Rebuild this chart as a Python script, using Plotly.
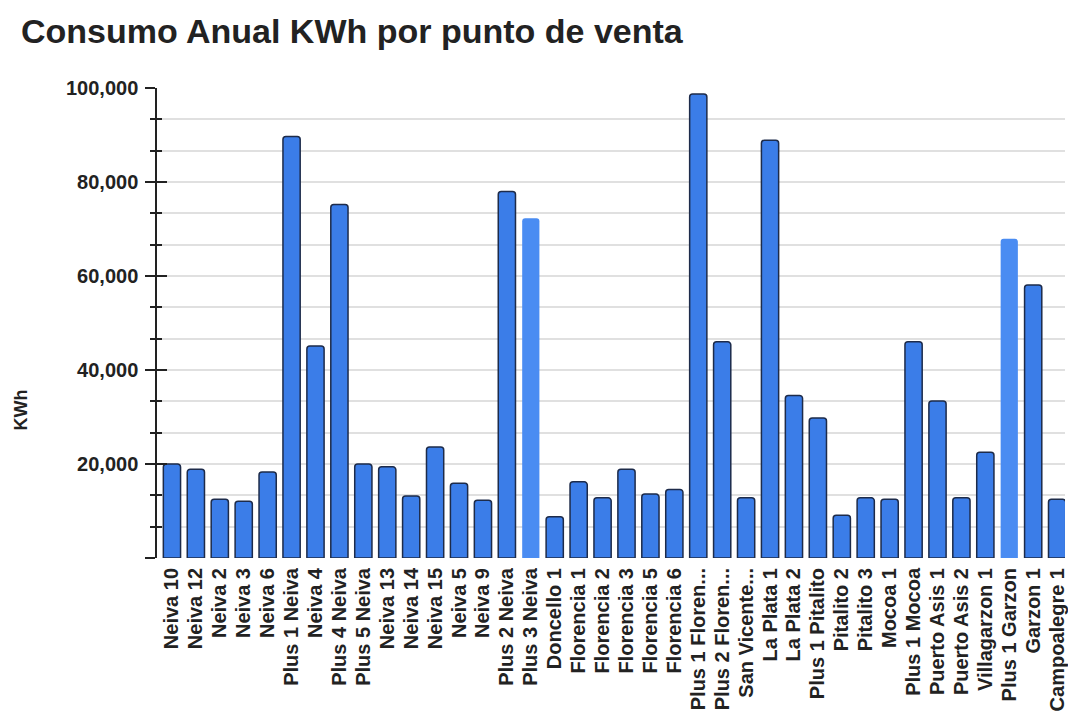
import plotly.graph_objects as go

# Annual consumption per point of sale (KWh)
puntos = [
    "Neiva 10", "Neiva 12", "Neiva 2", "Neiva 3", "Neiva 6", "Plus 1 Neiva",
    "Neiva 4", "Plus 4 Neiva", "Plus 5 Neiva", "Neiva 13", "Neiva 14", "Neiva 15",
    "Neiva 5", "Neiva 9", "Plus 2 Neiva", "Plus 3 Neiva", "Doncello 1",
    "Florencia 1", "Florencia 2", "Florencia 3", "Florencia 5", "Florencia 6",
    "Plus 1 Floren...", "Plus 2 Floren...", "San Vicente...", "La Plata 1",
    "La Plata 2", "Plus 1 Pitalito", "Pitalito 2", "Pitalito 3", "Mocoa 1",
    "Plus 1 Mocoa", "Puerto Asis 1", "Puerto Asis 2", "Villagarzon 1",
    "Plus 1 Garzon", "Garzon 1", "Campoalegre 1",
]
consumo_kwh = [
    20000, 18900, 12500, 12100, 18300, 89700,
    45100, 75200, 20000, 19400, 13200, 23600,
    15900, 12300, 78000, 72300, 8800,
    16200, 12800, 18900, 13600, 14600,
    98700, 46000, 12800, 88900,
    34600, 29800, 9100, 12800, 12500,
    46000, 33400, 12800, 22500,
    67900, 58100, 12500,
]
resaltados = ["Plus 3 Neiva", "Plus 1 Garzon"]

y_major = [0, 20000, 40000, 60000, 80000, 100000]
y_labels = ["", "20,000", "40,000", "60,000", "80,000", "100,000"]

AZUL = "#3b7de8"
AZUL_CLARO = "#4a8cf2"
BORDE = "#1d2b4a"
TEXTO = "#222222"
FUENTE = "Liberation Sans, Arial, sans-serif"

fill = [AZUL_CLARO if p in resaltados else AZUL for p in puntos]
line_w = [0 if p in resaltados else 1.5 for p in puntos]

fig = go.Figure()
fig.add_trace(go.Bar(
    x=puntos, y=consumo_kwh,
    marker=dict(color=fill, line=dict(color=BORDE, width=line_w), cornerradius=3),
    showlegend=False,
))
# empty trace on an overlay axis that draws the inner half of the cross ticks
fig.add_trace(go.Scatter(x=[], y=[], yaxis="y2", showlegend=False))

W, H = 1068, 728
L, R, T, B = 157, 0, 88, 170

fig.update_layout(
    width=W, height=H,
    margin=dict(l=L, r=R, t=T, b=B, pad=0),
    paper_bgcolor="white", plot_bgcolor="white",
    bargap=0.28,
    font=dict(family=FUENTE, color=TEXTO),
    title=dict(
        text="<b>Consumo Anual KWh por punto de venta</b>",
        font=dict(size=34, family=FUENTE, color=TEXTO),
        xref="container", yref="container",
        x=21 / W, xanchor="left",
        y=1 - 31 / H, yanchor="middle",
    ),
    xaxis=dict(
        range=[-0.625, len(puntos) - 1 + 0.33],
        tickmode="array", tickvals=puntos, ticktext=puntos,
        tickangle=-90,
        tickfont=dict(size=20, family=FUENTE, color=TEXTO, weight="bold"),
        ticks="", showgrid=False, showline=False, zeroline=False,
        ticklabelstandoff=5,
    ),
    yaxis=dict(
        range=[0, 100000],
        tickvals=y_major, ticktext=y_labels,
        tickfont=dict(size=20, family=FUENTE, color=TEXTO, weight="bold"),
        ticks="outside", ticklen=10, tickwidth=1.5, tickcolor=TEXTO,
        showline=True, linecolor=TEXTO, linewidth=1.5,
        showgrid=True, gridcolor="#e0e0e0", gridwidth=1.5,
        zeroline=False,
        ticklabelstandoff=3,
        minor=dict(dtick=20000 / 3, tick0=0, ticks="outside", ticklen=5,
                   tickwidth=1.5, tickcolor=TEXTO,
                   showgrid=True, gridcolor="#e0e0e0", gridwidth=1.5),
    ),
    yaxis2=dict(
        overlaying="y", side="left", anchor="x",
        range=[0, 100000],
        tickvals=y_major, showticklabels=False,
        ticks="inside", ticklen=10, tickwidth=1.5, tickcolor=TEXTO,
        showline=False, showgrid=False, zeroline=False,
        minor=dict(dtick=20000 / 3, tick0=0, ticks="inside", ticklen=5,
                   tickwidth=1.5, tickcolor=TEXTO, showgrid=False),
    ),
    annotations=[dict(
        text="<b>KWh</b>", textangle=-90,
        xref="paper", yref="paper",
        x=-(L - 21) / (W - L - R), y=(H - 410 - B) / (H - T - B),
        xanchor="center", yanchor="middle",
        showarrow=False,
        font=dict(size=18, family=FUENTE, color=TEXTO),
    )],
)

fig.write_html("out.html")
